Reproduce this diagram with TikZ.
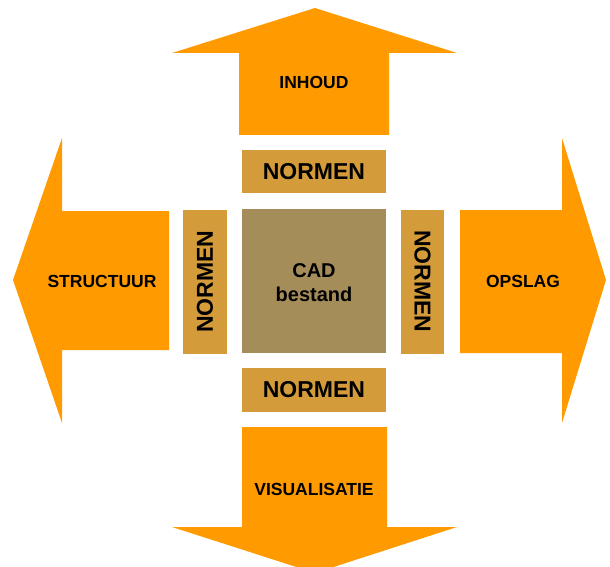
\documentclass[tikz,border=0pt]{standalone}
\usepackage{fontspec}
\setmainfont{Liberation Sans}
\definecolor{pijl}{RGB}{255,155,0}
\definecolor{norm}{RGB}{212,155,58}
\definecolor{kern}{RGB}{165,141,90}
\begin{document}
\begin{tikzpicture}[x=1pt, y=-1pt, line join=miter,
    arrow/.style={fill=pijl},
    label/.style={font=\bfseries\fontsize{17.5}{20}\selectfont},
    normbox/.style={fill=norm, inner sep=0pt, font=\bfseries\fontsize{23}{26}\selectfont, minimum width=144, minimum height=43.5}]
            \useasboundingbox (0,0) rectangle (610,567);
            % arrows
            \fill[arrow](239,135)--(239,53)--(172,53)--(315,8)--(457,53)--(389,53)--(389,135)--cycle;
            \fill[arrow](242,427)--(242,527)--(172,527)--(315,573)--(457,527)--(387,527)--(387,427)--cycle;
            \fill[arrow](169,211)--(62,211)--(62,138)--(13,280)--(62,423)--(62,350)--(169,350)--cycle;
            \fill[arrow](460,210)--(562,210)--(562,138)--(606,280)--(562,423)--(562,353)--(460,353)--cycle;
            \node[label] (inhoud) at (314,82) {INHOUD};
            \node[label] (structuur) at (102,281) {STRUCTUUR};
            \node[label] (opslag) at (523,281) {OPSLAG};
            \node[label] (visualisatie) at (314,489) {VISUALISATIE};
            % centre
            \node[fill=kern, minimum size=144, inner sep=0pt] (cad) at (314,281) {};
            \node[align=center, font=\bfseries\fontsize{20}{24}\selectfont] (cadtekst) at (314,283) {CAD\\bestand};
            \node[normbox] (ntop) at (314,171.5) {NORMEN};
            \node[normbox] (nbottom) at (314,390) {NORMEN};
            \node[normbox, rotate=90, minimum height=44] (nleft) at (205,281.5) {NORMEN};
            \node[normbox, rotate=-90, minimum height=43] (nright) at (422.5,281.5) {NORMEN};
        \end{tikzpicture}
\end{document}
